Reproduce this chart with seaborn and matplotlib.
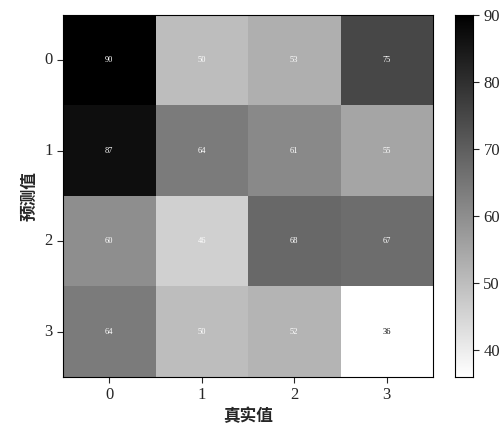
import numpy as np
import pandas as pd
import seaborn as sns
import matplotlib.pyplot as plt

labels = [0, 1, 2, 3]
row0 = [90, 50, 53, 75]
row1 = [87, 64, 61, 55]
row2 = [60, 46, 68, 67]
row3 = [64, 50, 52, 36]

sns.set_style("white")
plt.rcParams['font.family'] = ['Liberation Serif', 'Noto Sans CJK SC', 'DejaVu Sans']

data = pd.DataFrame([row0, row1, row2, row3], index=labels, columns=labels)

fig = plt.figure(figsize=(5, 4.25), dpi=100)
ax = fig.add_axes([0.126, 0.113, 0.74, 0.852])
cax = fig.add_axes([0.91, 0.113, 0.036, 0.852])
sns.heatmap(data, annot=True, fmt='g', cmap='gray_r', ax=ax, cbar_ax=cax,
            vmin=36, vmax=90, annot_kws={'fontsize': 6})
for t in ax.texts:
    if t.get_text() == '36':
        t.set_color('black')
    else:
        t.set_color('white')
ax.set_xlabel('真实值', fontsize=12, fontweight='bold')
ax.set_ylabel('预测值', fontsize=12, fontweight='bold')
ax.tick_params(axis='both', labelsize=12, length=4, left=True, bottom=True)
ax.set_yticklabels(labels, rotation=0)
for s in ax.spines.values():
    s.set_visible(True)
    s.set_color('black')
cax.tick_params(labelsize=12, length=4)
for s in cax.spines.values():
    s.set_visible(True)
    s.set_color('black')
fig.savefig('out.png', dpi=100)
